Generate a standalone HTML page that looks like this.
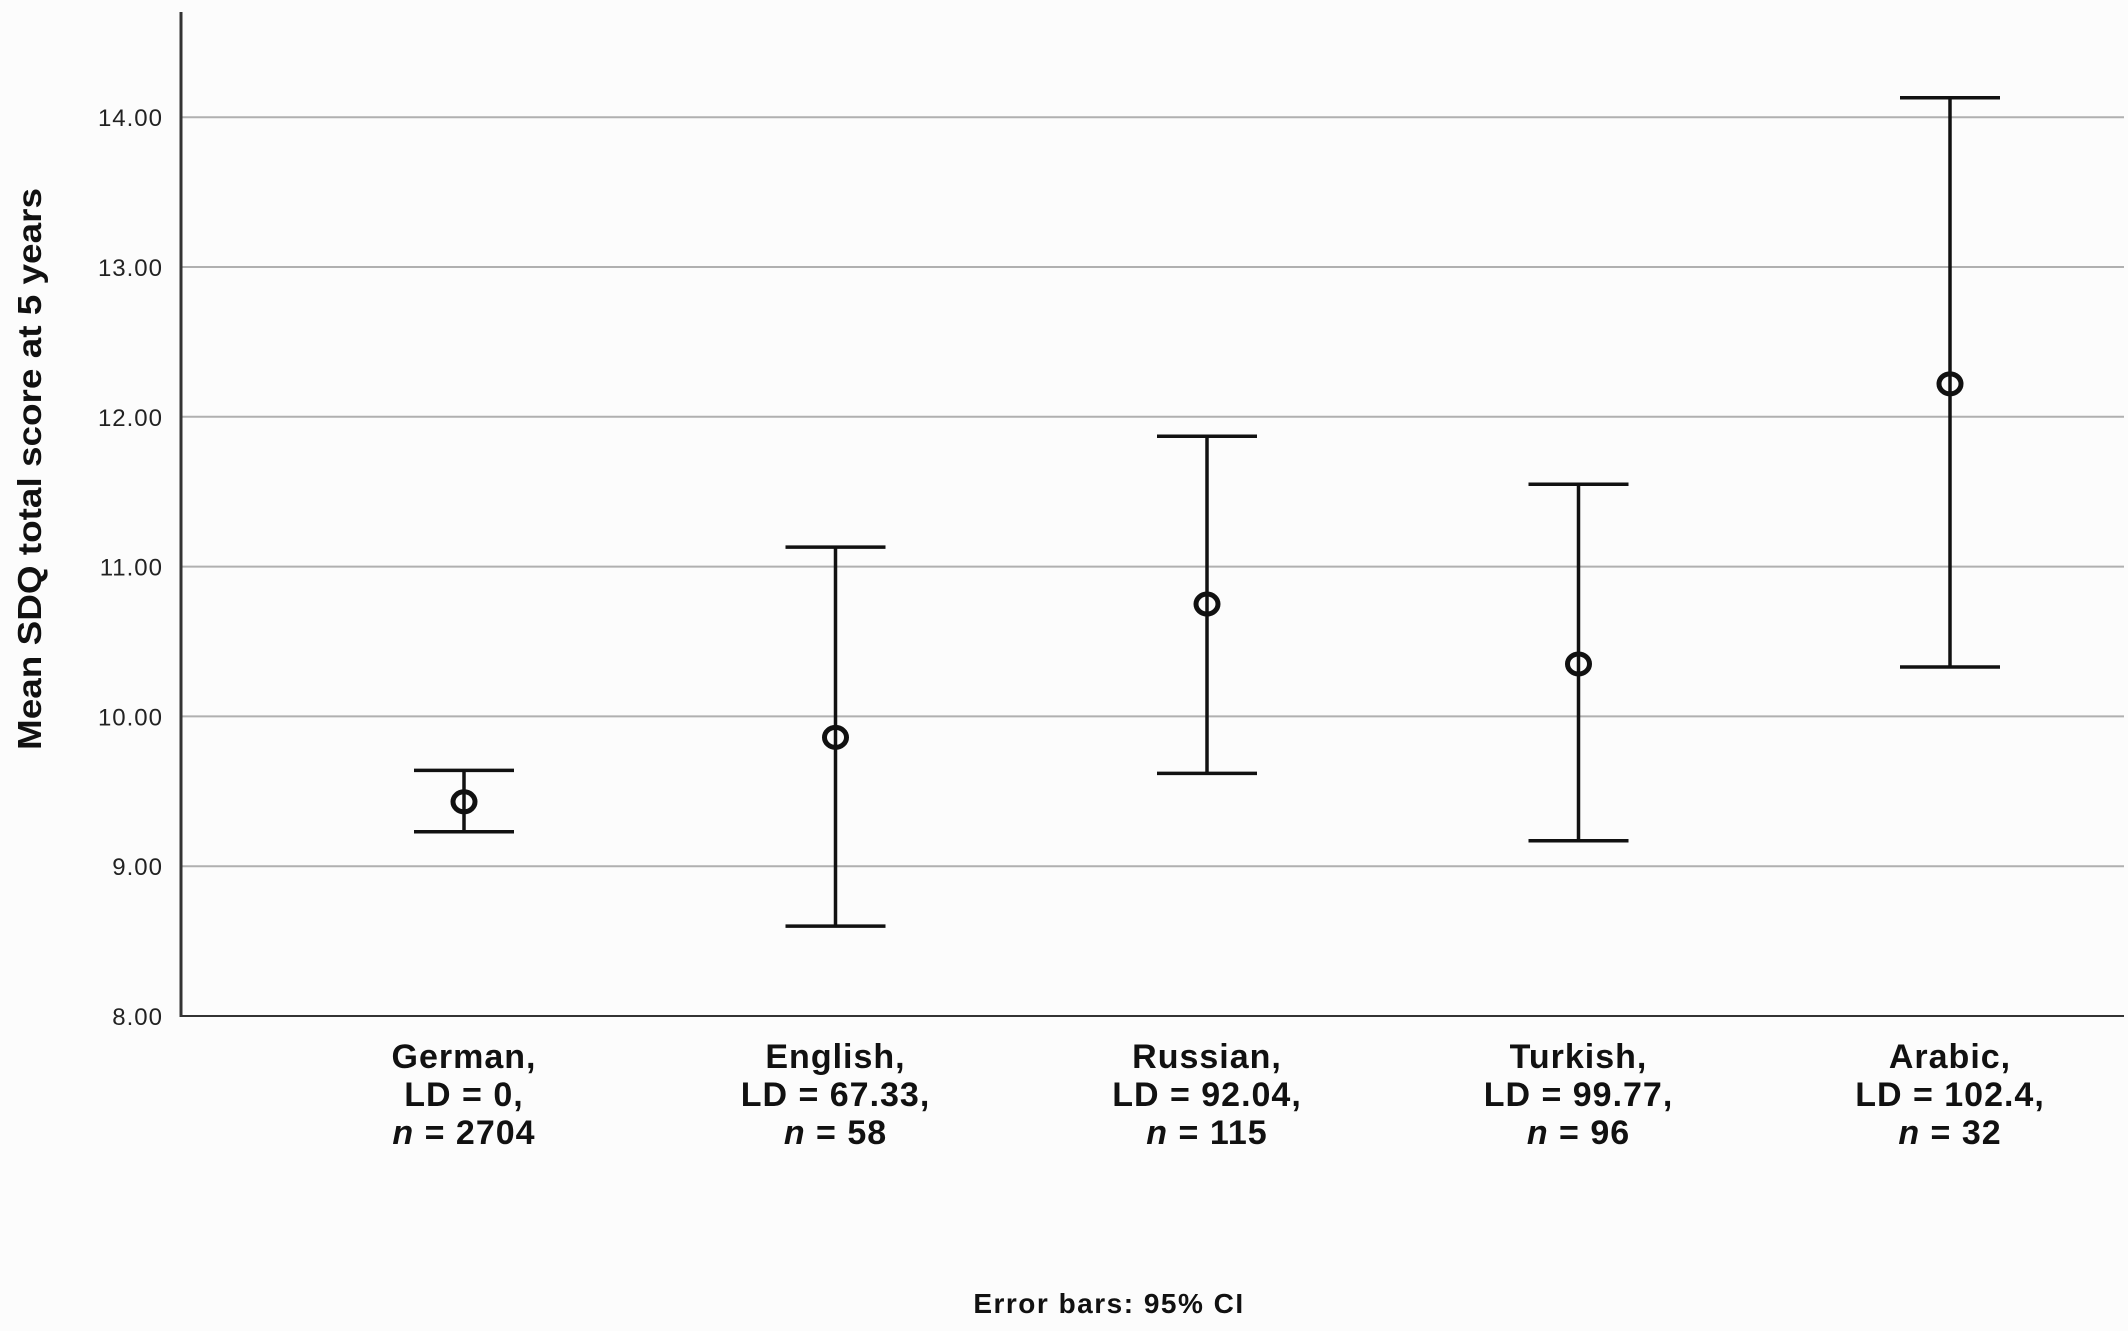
<!DOCTYPE html>
<html><head><meta charset="utf-8"><style>
html,body{margin:0;padding:0;background:#fcfcfc;}
svg{display:block;font-family:"Liberation Sans",sans-serif;}
</style></head><body>
<svg id="chart" width="2128" height="1331" viewBox="0 0 2128 1331">
<rect width="2128" height="1331" fill="#fcfcfc"/>
<g id="grid"></g>
<g id="marks"></g>
<g id="labels"></g>
<line x1="181" y1="12" x2="181" y2="1017" stroke="#333" stroke-width="3"/>
<line x1="180" y1="1016" x2="2124" y2="1016" stroke="#333" stroke-width="2"/>
<text x="0" y="0" transform="translate(41,469) rotate(-90)" text-anchor="middle" font-size="33" font-weight="bold" textLength="562" lengthAdjust="spacingAndGlyphs" fill="#111">Mean SDQ total score at 5 years</text>
<text x="1109" y="1313" text-anchor="middle" font-size="28" font-weight="bold" letter-spacing="1.5" fill="#111">Error bars: 95% CI</text>
</svg>
<script>
const categories=["German","English","Russian","Turkish","Arabic"];
const ldValues=["0","67.33","92.04","99.77","102.4"];
const nValues=["2704","58","115","96","32"];
const means=[9.43,9.86,10.75,10.35,12.22];
const ciLow=[9.23,8.60,9.62,9.17,10.33];
const ciHigh=[9.64,11.13,11.87,11.55,14.13];
const yTicks=[8,9,10,11,12,13,14];
const yTickLabels=["8.00","9.00","10.00","11.00","12.00","13.00","14.00"];

const NS="http://www.w3.org/2000/svg";
const y=v=>1016-(v-8)*149.8;
const x=i=>464+i*371.5;
function mk(tag,attrs,parent){const e=document.createElementNS(NS,tag);for(const k in attrs)e.setAttribute(k,attrs[k]);parent.appendChild(e);return e;}
const grid=document.getElementById('grid'),marks=document.getElementById('marks'),labels=document.getElementById('labels');
yTicks.forEach((t,i)=>{
  if(t>8){const l=mk('line',{x1:181,x2:2124,y1:y(t),y2:y(t),stroke:'#b0b0b0','stroke-width':2},grid);
  
  }
  const tx=mk('text',{x:163,y:y(t)+9,'text-anchor':'end','font-size':24,'letter-spacing':1,fill:'#222'},labels);
  tx.textContent=yTickLabels[i];
  
  
});
categories.forEach((c,i)=>{
  const cx=x(i);
  const g=mk('g',{},marks);
  
  
  mk('line',{x1:cx,x2:cx,y1:y(ciHigh[i]),y2:y(ciLow[i]),stroke:'#111','stroke-width':3.5},g);
  mk('line',{x1:cx-50,x2:cx+50,y1:y(ciHigh[i]),y2:y(ciHigh[i]),stroke:'#111','stroke-width':3.5},g);
  mk('line',{x1:cx-50,x2:cx+50,y1:y(ciLow[i]),y2:y(ciLow[i]),stroke:'#111','stroke-width':3.5},g);
  const pt=mk('ellipse',{cx:cx,cy:y(means[i]),rx:11,ry:10,fill:'none',stroke:'#111','stroke-width':5},marks);
  
  
  const t=mk('text',{'text-anchor':'middle','font-size':34,'font-weight':'bold','letter-spacing':1,fill:'#111'},labels);
  
  
  const s1=mk('tspan',{x:cx,y:1068},t);s1.textContent=c+',';
  const s2=mk('tspan',{x:cx,y:1106},t);s2.textContent='LD = '+ldValues[i]+',';
  const s3=mk('tspan',{x:cx,y:1144},t);
  const it=mk('tspan',{'font-style':'italic'},s3);it.textContent='n';
  const rest=mk('tspan',{},s3);rest.textContent=' = '+nValues[i];
});
</script>
</body></html>
